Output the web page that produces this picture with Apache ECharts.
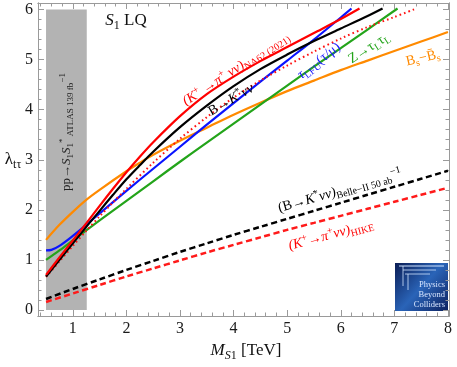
<!DOCTYPE html>
<html><head><meta charset="utf-8">
<script src="https://cdn.jsdelivr.net/npm/echarts@6/dist/echarts.min.js"></script>
<style>html,body{margin:0;padding:0;background:#fff}#c{width:457px;height:367px}</style>
</head><body><div id="c"></div>
<script>
// ---- data ----
const xRed = [0.5,0.75,1.0,1.25,1.5,1.75,2.0,2.25,2.5,3.0,3.5,4.0,4.5,5.0,5.5,6.0,6.35];
const yRed = [0.70,1.05,1.39,1.73,2.08,2.42,2.75,3.06,3.35,3.87,4.31,4.66,4.97,5.25,5.53,5.81,6.02];
const xBlack = [0.5,0.75,1.0,1.25,1.5,1.75,2.0,2.25,2.5,3.0,3.5,4.0,4.5,5.0,5.5,6.0,6.5,6.78];
const yBlack = [0.67,1.0,1.33,1.66,1.98,2.3,2.61,2.89,3.16,3.65,4.08,4.47,4.81,5.1,5.37,5.62,5.87,6.02];
const xBlue = [0.5,0.6,0.75,1.0,1.25,1.5,2.0,2.5,3.0,3.5,4.0,4.5,5.0,5.5,6.0,6.2];
const yBlue = [1.19,1.2,1.28,1.48,1.70,1.93,2.38,2.82,3.26,3.70,4.13,4.56,4.98,5.40,5.84,6.02];
const xGreen = [0.5,0.75,1.0,1.25,1.5,2.0,2.5,3.0,3.5,4.0,4.5,5.0,5.5,6.0,6.5,7.06];
const yGreen = [1.0,1.19,1.39,1.59,1.79,2.18,2.57,2.96,3.34,3.72,4.1,4.48,4.86,5.23,5.6,6.02];
const xOrange = [0.5,0.75,1.0,1.25,1.5,2.0,2.25,2.5,3.0,3.5,4.0,4.5,5.0,5.5,6.0,6.5,7.0,7.5,8.0];
const yOrange = [1.4,1.7,1.96,2.2,2.4,2.77,2.94,3.1,3.38,3.64,3.9,4.14,4.37,4.58,4.79,4.98,5.17,5.36,5.55];
const xDotted = [0.5,0.75,1.0,1.25,1.5,1.75,2.0,2.5,3.0,3.5,4.0,4.5,5.0,5.5,6.0,6.5,7.0,7.41];
const yDotted = [0.66,0.97,1.28,1.58,1.87,2.15,2.42,2.94,3.42,3.85,4.24,4.58,4.88,5.16,5.42,5.65,5.85,6.02];
const xBelle = [0.5,1,1.5,2,2.5,3,3.5,4,4.5,5,5.5,6,6.5,7,7.5,8];
const yBelle = [0.22,0.42,0.61,0.8,0.98,1.16,1.33,1.5,1.66,1.82,1.98,2.14,2.3,2.46,2.62,2.78];
const xHike = [0.5,1,1.5,2,2.5,3,3.5,4,4.5,5,5.5,6,6.5,7,7.5,8];
const yHike = [0.16,0.33,0.5,0.67,0.83,0.99,1.15,1.3,1.45,1.6,1.74,1.88,2.02,2.16,2.3,2.44];
const bandX = [0.5, 1.26];
const bandY = [0, 6];
const xTicksMajor = [1,2,3,4,5,6,7,8];
const xTicksMinor = [0.4,0.6,0.8,1.2,1.4,1.6,1.8,2.2,2.4,2.6,2.8,3.2,3.4,3.6,3.8,4.2,4.4,4.6,4.8,5.2,5.4,5.6,5.8,6.2,6.4,6.6,6.8,7.2,7.4,7.6,7.8];
const yTicksMajor = [0,1,2,3,4,5,6];
const yTicksMinor = [0.2,0.4,0.6,0.8,1.2,1.4,1.6,1.8,2.2,2.4,2.6,2.8,3.2,3.4,3.6,3.8,4.2,4.4,4.6,4.8,5.2,5.4,5.6,5.8];

// ---- chart ----
const SERIF = "'Liberation Serif','DejaVu Serif','Times New Roman',serif";
const FRAME = '#9a9a9a';
const X_MIN = 0.35, X_MAX = 8.02, Y_MIN = -0.12, Y_MAX = 6.13;
const pairs = (xs, ys) => xs.map((x, i) => [x, ys[i]]);

function axis(kind, pos, vals, len, labels) {
  const a = {
    type: 'value', position: pos,
    min: kind === 'x' ? X_MIN : Y_MIN, max: kind === 'x' ? X_MAX : Y_MAX,
    axisLine: {show: true, onZero: false, lineStyle: {color: FRAME, width: 1}},
    splitLine: {show: false},
    axisTick: {show: true, inside: true, length: len, customValues: vals, lineStyle: {color: FRAME, width: 1}},
    axisLabel: {show: false}
  };
  if (labels) a.axisLabel = {show: true, customValues: vals, fontFamily: SERIF, fontSize: 16, color: '#1a1a1a', margin: kind === 'x' ? 5 : 5};
  return a;
}

function rich(color, size) {
  const s = Math.round(size * 0.72);
  return {
    n: {fill: color, fontFamily: SERIF, fontSize: size, lineHeight: size * 1.3, verticalAlign: 'middle'},
    i: {fill: color, fontFamily: SERIF, fontSize: size, fontStyle: 'italic', lineHeight: size * 1.3, verticalAlign: 'middle'},
    sub: {fill: color, fontFamily: SERIF, fontSize: s, lineHeight: s, verticalAlign: 'bottom'},
    isub: {fill: color, fontFamily: SERIF, fontSize: s, fontStyle: 'italic', lineHeight: s, verticalAlign: 'bottom'},
    sup: {fill: color, fontFamily: SERIF, fontSize: s, lineHeight: s, verticalAlign: 'top'}
  };
}
function label(x, y, deg, text, color, size) {
  return {type: 'text', x: x, y: y, rotation: deg * Math.PI / 180, z: 50,
    style: {text: text, rich: rich(color, size), fill: color, align: 'center', verticalAlign: 'middle', fontFamily: SERIF, fontSize: size}};
}

function line(name, xs, ys, color, type, width) {
  return {name: name, type: 'line', data: pairs(xs, ys), showSymbol: false, smooth: 0.3, z: 3,
    lineStyle: {color: color, width: width || 2.2, type: type || 'solid', cap: 'butt'}, animation: false};
}

const chart = echarts.init(document.getElementById('c'), null, {renderer: 'canvas'});
chart.setOption({
  animation: false,
  grid: {left: 38, right: 8, top: 3, bottom: 51, containLabel: false},
  xAxis: [
    axis('x', 'bottom', xTicksMajor, 6, true),
    axis('x', 'bottom', xTicksMinor, 3.5, false),
    axis('x', 'top', xTicksMajor, 6, false),
    axis('x', 'top', xTicksMinor, 3.5, false)
  ],
  yAxis: [
    axis('y', 'left', yTicksMajor, 6, true),
    axis('y', 'left', yTicksMinor, 3.5, false),
    axis('y', 'right', yTicksMajor, 6, false),
    axis('y', 'right', yTicksMinor, 3.5, false)
  ],
  series: [
    {type: 'line', data: [], z: 1, silent: true,
     markArea: {silent: true, itemStyle: {color: '#b3b3b3'},
       data: [[{xAxis: bandX[0], yAxis: bandY[0]}, {xAxis: bandX[1], yAxis: bandY[1]}]]}},
    line('Bs', xOrange, yOrange, '#ff8a00'),
    line('Z', xGreen, yGreen, '#23a41a'),
    line('tauLFU', xBlue, yBlue, '#0a14ff'),
    line('dotted', xDotted, yDotted, '#ff1010', [1.6, 3], 2),
    line('BKnn', xBlack, yBlack, '#000000'),
    line('NA62', xRed, yRed, '#ff0000'),
    line('Belle', xBelle, yBelle, '#000000', [6, 3.5], 2.5),
    line('HIKE', xHike, yHike, '#ff1a1a', [6, 3.5], 2.5)
  ],
  graphic: [
    // band label
    label(67, 132, 90, '{n|pp→}{i|S}{sub|1}{i|S}{sub|1}{sup|*}{sub| ATLAS 139 fb}{sup|−1}', '#222', 13),
    // title
    label(126, 21, 0, '{i|S}{sub|1}{n| LQ}', '#111', 17),
    // axis names
    label(13, 160, 0, '{n|λ}{sub|tτ}', '#111', 17),
    label(246, 351, 0, '{i|M}{isub|S}{sub|1}{n| [TeV]}', '#111', 17),
    // curve labels
    label(236, 69, 33, '{i|(K}{sup|+}{i| →π}{sup|+}{i| νν)}{sub|NA62 (2021)}', '#ff0000', 14),
    label(231, 100, 30, '{n|B→}{i|K}{sup|*}{i|νν}', '#000', 14),
    label(319, 61, 38, '{i|τ}{sub|LFU}{n|(τ/μ)}', '#1a1aff', 14),
    label(369, 48, 33, '{n|Z→τ}{sub|L}{n|τ}{sub|L}', '#23a41a', 14),
    label(423, 58, 13, '{n|B}{sub|s}{n|−B̄}{sub|s}', '#ff8a00', 14),
    label(340, 191, 16, '{n|(B→}{i|K}{sup|*}{i|νν)}{sub|Belle−II 50 ab}{sup|−1}', '#000', 14),
    label(331, 235, 15, '{i|(K}{sup|+}{i|→π}{sup|+}{i|νν)}{sub|HIKE}', '#ff0000', 14),
    // logo
    {type: 'group', z: 60, children: [
      {type: 'rect', shape: {x: 395, y: 263, width: 53, height: 48},
       style: {fill: new echarts.graphic.LinearGradient(0, 0, 1, 1, [
         {offset: 0, color: '#0b1d55'}, {offset: 0.5, color: '#2a64b8'}, {offset: 1, color: '#0d2260'}])}},
      {type: 'line', shape: {x1: 399, y1: 266, x2: 444, y2: 266}, style: {stroke: '#cfe3ff', lineWidth: 1}},
      {type: 'line', shape: {x1: 403, y1: 270, x2: 436, y2: 270}, style: {stroke: '#cfe3ff', lineWidth: 0.8}},
      {type: 'line', shape: {x1: 405, y1: 274, x2: 430, y2: 274}, style: {stroke: '#cfe3ff', lineWidth: 0.8}},
      {type: 'line', shape: {x1: 403, y1: 266, x2: 403, y2: 286}, style: {stroke: '#cfe3ff', lineWidth: 0.8}},
      {type: 'line', shape: {x1: 408, y1: 274, x2: 408, y2: 290}, style: {stroke: '#cfe3ff', lineWidth: 0.8}},
      {type: 'text', x: 445, y: 285, style: {text: 'Physics', fill: '#d8e6ff', fontFamily: SERIF, fontSize: 8.5, align: 'right', verticalAlign: 'middle'}},
      {type: 'text', x: 445, y: 295, style: {text: 'Beyond', fill: '#d8e6ff', fontFamily: SERIF, fontSize: 8.5, align: 'right', verticalAlign: 'middle'}},
      {type: 'text', x: 445, y: 305, style: {text: 'Colliders', fill: '#d8e6ff', fontFamily: SERIF, fontSize: 8.5, align: 'right', verticalAlign: 'middle'}}
    ]}
  ]
});
</script>
</body></html>
